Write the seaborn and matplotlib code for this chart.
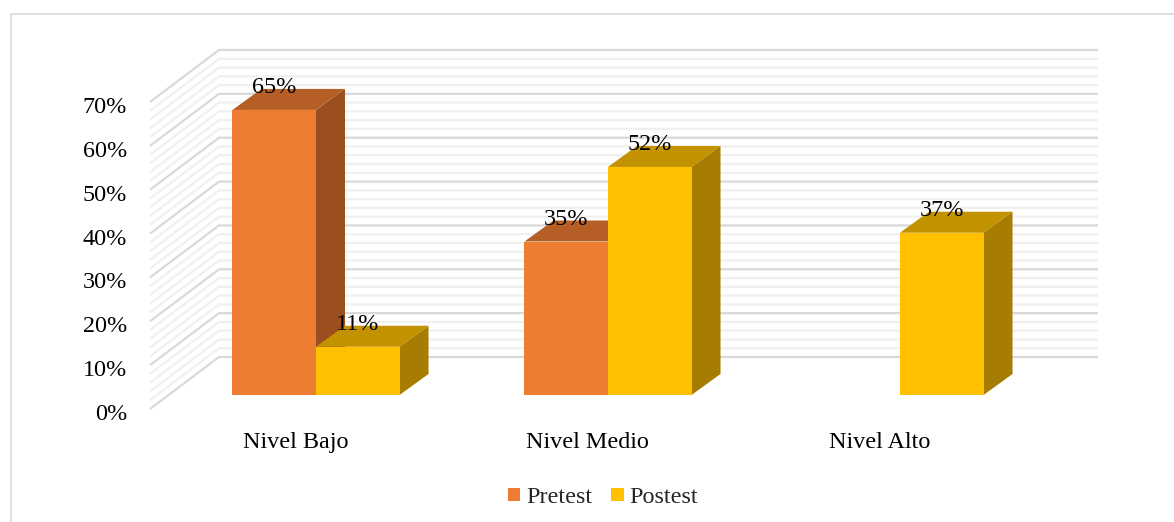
import matplotlib
matplotlib.use("Agg")
import matplotlib.pyplot as plt
import pandas as pd
import seaborn as sns
from matplotlib.lines import Line2D
from matplotlib.patches import Polygon
from matplotlib.transforms import ScaledTranslation

categories = ["Nivel Bajo", "Nivel Medio", "Nivel Alto"]
pretest = [65, 35, None]
postest = [11, 52, 37]
y_ticks = [0, 10, 20, 30, 40, 50, 60, 70]
series_names = ["Pretest", "Postest"]

W, H, DPI = 1174, 522, 100
sns.set_theme(style="white")
plt.rcParams["font.family"] = ["Liberation Serif", "DejaVu Serif"]
FS = 17.4
FRONT, TOP, SIDE = {"Pretest": "#ED7D31", "Postest": "#FFC000"}, {"Pretest": "#B55F26", "Postest": "#C29200"}, {"Pretest": "#9B4F1E", "Postest": "#A67D00"}

rows = [(c, "Pretest", v) for c, v in zip(categories, pretest) if v is not None]
rows += [(c, "Postest", v) for c, v in zip(categories, postest)]
df = pd.DataFrame(rows, columns=["nivel", "serie", "valor"])

fig = plt.figure(figsize=(W / DPI, H / DPI), dpi=DPI, facecolor="white")
L, R, B, T = 150, 1098, 395, 88  # axes box in image pixels
ax = fig.add_axes([L / W, 1 - B / H, (R - L) / W, (B - T) / H])

sns.barplot(data=df, x="nivel", y="valor", hue="serie", order=categories, hue_order=series_names,
            palette=FRONT, width=0.572, gap=0, saturation=1, errorbar=None, ax=ax, linewidth=0)

px_x = 292.0          # pixels per category
px_y = (B - T) / 70   # pixels per percentage point
ax.set_xlim((L - 316) / px_x, (R - 316) / px_x)
ax.set_ylim(0, 70)
ax.set_xlabel("")
ax.set_ylabel("")
sns.despine(ax=ax, left=True, bottom=True)

# Walls: front edge is 14 px below the axes base, the back wall 38 px above it, 69 px to the right
x0, x1 = ax.get_xlim()
for v in range(0, 71, 2):
    major = v % 10 == 0
    ax.plot([x0, x0 + 69 / px_x, x1],
            [v - 14 / px_y, v + 38 / px_y, v + 38 / px_y],
            color="#D9D9D9" if major else "#F0F0F0", lw=1.6, clip_on=False, zorder=1,
            solid_joinstyle="miter", solid_capstyle="butt")

# Extruded faces of each bar
dx, dy = 29 / px_x, 21 / px_y
for name, cont in zip(series_names, ax.containers):
    z = 2 if name == "Pretest" else 3
    for bar in cont:
        x, w, h = bar.get_x(), bar.get_width(), bar.get_height()
        bar.set_zorder(z + 0.5)
        bar.set_clip_on(False)
        ax.add_patch(Polygon([(x + w, 0), (x + w + dx, dy), (x + w + dx, h + dy), (x + w, h)],
                             fc=SIDE[name], ec="none", zorder=z, clip_on=False))
        ax.add_patch(Polygon([(x, h), (x + dx, h + dy), (x + w + dx, h + dy), (x + w, h)],
                             fc=TOP[name], ec="none", zorder=z, clip_on=False))
    labels = ax.bar_label(cont, fmt=lambda v: f"{v:.0f}%", padding=8.6, fontsize=FS, color="black")
    for t in labels:
        t.set_zorder(6)

ax.set_yticks(y_ticks, [f"{v}%" for v in y_ticks])
ax.tick_params(axis="y", length=0, pad=16.5, labelsize=FS, labelcolor="black")
ax.tick_params(axis="x", length=0, pad=26.5, labelsize=FS, labelcolor="black")
for lab in ax.get_yticklabels():
    lab.set_transform(lab.get_transform() + ScaledTranslation(0, -17 / DPI, fig.dpi_scale_trans))
for lab in ax.get_xticklabels():
    lab.set_transform(lab.get_transform() + ScaledTranslation(-20.5 / DPI, 0, fig.dpi_scale_trans))

handles, names = ax.get_legend_handles_labels()
if ax.get_legend():
    ax.get_legend().remove()
fig.legend(handles, names, loc="center", bbox_to_anchor=(603 / W, 1 - 497.5 / H), ncol=2, frameon=False,
           fontsize=FS, handlelength=0.5, handleheight=0.5, handletextpad=0.25, columnspacing=0.8, borderpad=0)

# Chart-area border
fig.add_artist(Line2D([11 / W, 11 / W, 1], [0, 1 - 14 / H, 1 - 14 / H], color="#D9D9D9", lw=1.2))

fig.savefig("out.png", dpi=DPI, facecolor="white")
